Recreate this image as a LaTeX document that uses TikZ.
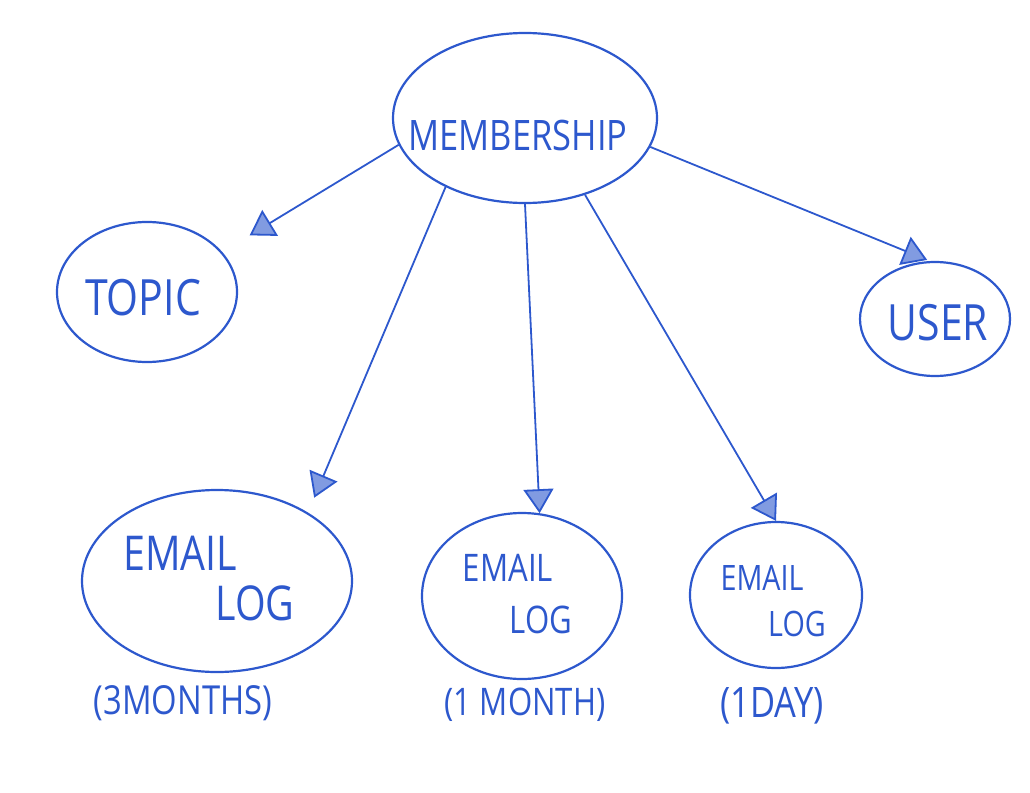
\documentclass[tikz,border=0pt]{standalone}
\usepackage{fontspec}
\newfontfamily\hand[FakeStretch=0.82]{Open Sans}
\usetikzlibrary{shapes.geometric,arrows.meta}
\definecolor{ink}{RGB}{45,88,205}
\begin{document}
\begin{tikzpicture}[x=1pt,y=-1pt,
  bubble/.style={draw=ink,line width=2.2pt,ellipse,inner sep=0pt},
  txt/.style={text=ink,font=\hand\fontsize{#1}{#1}\selectfont,inner sep=0pt},
  link/.style={draw=ink,line width=1.8pt,-{Triangle[length=24pt,width=30pt,fill=ink!60]}}]
\useasboundingbox (0,0) rectangle (1030,792);
% ellipses
\node[bubble,minimum width=264pt,minimum height=170pt] (mem) at (525,118) {};
\node[bubble,minimum width=180pt,minimum height=140pt] (topic) at (147,292) {};
\node[bubble,minimum width=150pt,minimum height=114pt] (user) at (935,319) {};
\node[bubble,minimum width=270pt,minimum height=182pt] (email1) at (217,581) {};
\node[bubble,minimum width=200pt,minimum height=166pt] (email2) at (522,596) {};
\node[bubble,minimum width=172pt,minimum height=146pt] (email3) at (776,595) {};
% texts
\node[txt=42] (memtext) at (518,135) {MEMBERSHIP};
\node[txt=50] (topictext) at (143,298) {TOPIC};
\node[txt=50] (usertext) at (938,323) {USER};
\node[txt=48] (e1a) at (180,553) {EMAIL};
\node[txt=48] (e1b) at (255,603) {LOG};
\node[txt=38] (e2a) at (508,568) {EMAIL};
\node[txt=38] (e2b) at (541,620) {LOG};
\node[txt=35] (e3a) at (762,578) {EMAIL};
\node[txt=35] (e3b) at (797,624) {LOG};
\node[txt=40] (l1) at (183,703) {(3MONTHS)};
\node[txt=38] (l2) at (525,705) {(1 MONTH)};
\node[txt=42] (l3) at (772,706) {(1DAY)};
% connectors
\draw[link,shorten >=32pt] (mem.192) -- (topic.28);
\draw[link,shorten >=3pt] (mem.347) -- (user.95);
\draw[link,shorten >=16pt] (mem.221) -- (email1.37);
\draw[link] (mem.270) -- (email2.78);
\draw[link] (mem.308) -- (email3.north);
\end{tikzpicture}
\end{document}
